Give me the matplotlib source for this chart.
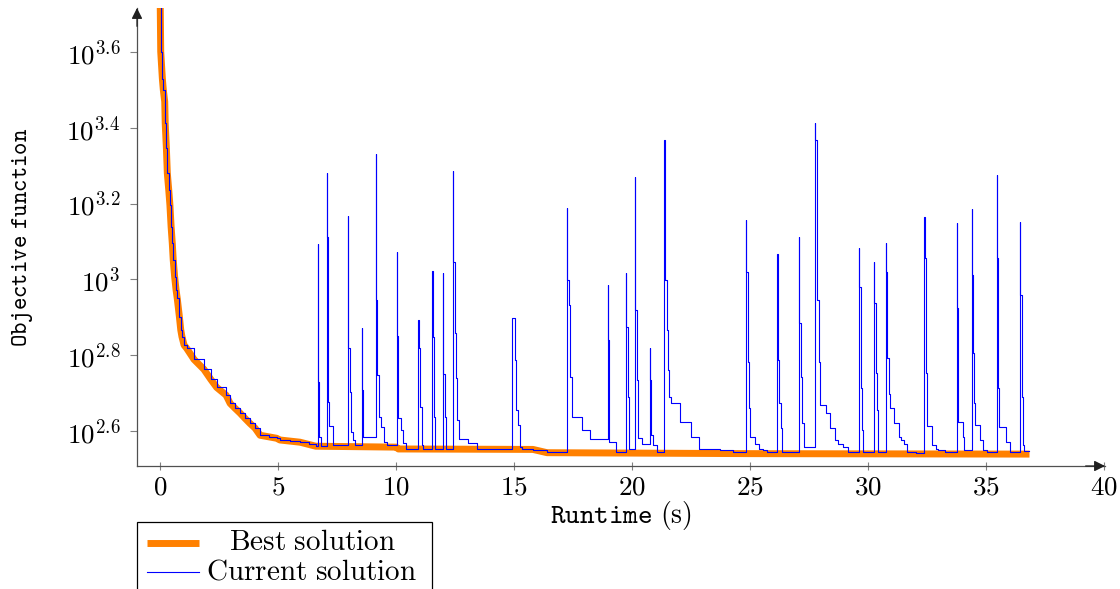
import matplotlib
matplotlib.use("Agg")
import matplotlib.pyplot as plt
from matplotlib.lines import Line2D
from matplotlib.patches import Rectangle
from matplotlib.ticker import FixedLocator, FixedFormatter, NullLocator

plt.rcParams["mathtext.fontset"] = "cm"

# best objective found so far (runtime s, objective)
best_points = [
    (0.00, 6000), (0.03, 3990), (0.10, 3381), (0.14, 3162), (0.20, 2944),
    (0.22, 2582), (0.27, 2218), (0.31, 1905), (0.37, 1722), (0.42, 1570),
    (0.47, 1377), (0.52, 1245), (0.56, 1125), (0.62, 1016), (0.68, 938),
    (0.73, 891), (0.82, 798), (0.88, 735), (0.93, 706), (1.02, 671),
    (1.13, 658), (1.44, 615), (1.86, 579), (2.15, 545), (2.40, 519),
    (2.80, 495), (2.97, 471), (3.18, 457), (3.39, 444), (3.60, 430),
    (3.81, 417), (4.03, 405), (4.24, 388), (4.94, 381), (5.08, 377),
    (5.93, 372), (6.60, 363), (10.00, 361), (10.10, 357), (15.80, 356),
    (16.40, 349), (25.00, 347), (36.84, 346),
]

# objective of the current solution, one entry per step change
current_points = [
    (0.00, 6000), (0.03, 3990), (0.10, 3381), (0.14, 3162), (0.20, 2944),
    (0.22, 2582), (0.27, 2218), (0.31, 1905), (0.37, 1722), (0.42, 1570),
    (0.47, 1377), (0.52, 1245), (0.56, 1125), (0.62, 1016), (0.68, 938),
    (0.73, 891), (0.82, 798), (0.88, 735), (0.93, 706), (1.02, 671),
    (1.13, 658), (1.44, 615), (1.86, 579), (2.15, 545), (2.40, 519),
    (2.80, 495), (2.97, 471), (3.18, 457), (3.39, 444), (3.60, 430),
    (3.81, 417), (4.03, 405), (4.24, 388), (4.60, 384), (4.94, 381),
    (5.08, 377), (5.50, 374), (5.93, 372), (6.30, 368), (6.60, 363),
    (6.68, 1239), (6.70, 536), (6.74, 384), (6.81, 363),
    (7.06, 1912), (7.08, 1294), (7.10, 475), (7.17, 410), (7.34, 366),
    (7.95, 1472), (7.97, 659), (8.05, 506), (8.09, 396), (8.16, 377), (8.26, 366),
    (8.55, 745), (8.57, 511), (8.60, 385),
    (9.14, 2143), (9.15, 1795), (9.16, 883), (9.18, 560), (9.29, 434),
    (9.36, 408), (9.51, 373), (9.63, 366),
    (10.03, 1183), (10.05, 710), (10.10, 431), (10.20, 401), (10.31, 370), (10.42, 358),
    (10.95, 782), (10.97, 659), (11.02, 461), (11.09, 366), (11.15, 358),
    (11.54, 1052), (11.55, 706), (11.61, 434), (11.67, 358),
    (11.98, 1038), (11.99, 562), (12.06, 434), (12.10, 358),
    (12.40, 1932), (12.41, 1114), (12.49, 722), (12.53, 549), (12.60, 426),
    (12.68, 379), (13.07, 371), (13.42, 357),
    (14.90, 789), (15.04, 613), (15.08, 452), (15.18, 413), (15.25, 362),
    (15.33, 357), (15.82, 355), (16.38, 350),
    (17.23, 1542), (17.25, 995), (17.32, 855), (17.37, 553), (17.45, 434),
    (17.87, 401), (18.22, 380),
    (18.97, 966), (18.98, 692), (19.03, 372), (19.32, 350),
    (19.73, 1038), (19.75, 750), (19.82, 490), (19.87, 358),
    (20.13, 1866), (20.14, 830), (20.22, 542), (20.27, 381), (20.44, 369),
    (20.76, 658), (20.78, 542), (20.80, 388), (20.90, 366), (21.05, 350),
    (21.37, 2333), (21.38, 995), (21.47, 735), (21.54, 577), (21.57, 490),
    (21.65, 471), (22.03, 421), (22.50, 385), (22.84, 358), (23.73, 355), (24.28, 351),
    (24.82, 1435), (24.83, 1047), (24.90, 607), (24.96, 457), (25.00, 385),
    (25.21, 369), (25.39, 358), (25.56, 355), (25.71, 351),
    (26.16, 1167), (26.17, 613), (26.24, 471), (26.30, 405), (26.37, 351),
    (27.06, 1297), (27.07, 1125), (27.08, 766), (27.16, 553), (27.22, 417), (27.30, 362),
    (27.75, 2582), (27.76, 2333), (27.83, 1392), (27.85, 883), (27.91, 607),
    (27.97, 467), (28.22, 443), (28.39, 405), (28.60, 377), (28.74, 369),
    (28.95, 362), (29.17, 351),
    (29.60, 1208), (29.61, 957), (29.69, 516), (29.75, 401), (29.80, 351),
    (30.24, 1114), (30.25, 865), (30.33, 565), (30.37, 452), (30.41, 351),
    (30.75, 1245), (30.76, 1047), (30.82, 619), (30.89, 500), (30.93, 457),
    (31.11, 417), (31.31, 385), (31.38, 377), (31.52, 369), (31.66, 351), (32.02, 349),
    (32.39, 1459), (32.40, 1137), (32.44, 565), (32.49, 461), (32.51, 411),
    (32.72, 366), (32.87, 358), (32.98, 355), (33.26, 351),
    (33.76, 1406), (33.77, 839), (33.83, 421), (34.04, 383), (34.08, 355),
    (34.39, 1531), (34.40, 1028), (34.46, 638), (34.49, 471), (34.53, 413),
    (34.75, 377), (34.86, 355), (35.03, 351),
    (35.45, 1884), (35.46, 1137), (35.52, 516), (35.55, 408), (35.83, 373), (36.02, 351),
    (36.44, 1419), (36.45, 910), (36.51, 490), (36.56, 366), (36.61, 352), (36.84, 352),
]

x_ticks = [0, 5, 10, 15, 20, 25, 30, 35, 40]
y_tick_values = [398.1, 631.0, 1000.0, 1584.9, 2511.9, 3981.1]
y_tick_labels = [r"$10^{2.6}$", r"$10^{2.8}$", r"$10^{3}$",
                 r"$10^{3.2}$", r"$10^{3.4}$", r"$10^{3.6}$"]

ORANGE = "#ff8000"
BLUE = "#0000ff"
AXIS = "#505050"
TICK = "#808080"

W, H = 1120, 589
fig = plt.figure(figsize=(W / 100, H / 100), dpi=100)
ax = fig.add_axes([137 / W, 1 - 466 / H, (1105 - 137) / W, (466 - 8) / H])

bt, bv = zip(*best_points)
ct, cv = zip(*current_points)
ax.plot(bt, bv, color=ORANGE, lw=5, solid_capstyle="butt", zorder=2)
ax.plot(ct, cv, color=BLUE, lw=0.8, drawstyle="steps-post", zorder=3)

ax.set_yscale("log")
ax.set_xlim(-0.975, 40.04)
ax.set_ylim(321.9, 5200)

ax.xaxis.set_major_locator(FixedLocator(x_ticks))
ax.xaxis.set_minor_locator(NullLocator())
ax.yaxis.set_major_locator(FixedLocator(y_tick_values))
ax.yaxis.set_major_formatter(FixedFormatter(y_tick_labels))
ax.yaxis.set_minor_locator(NullLocator())
ax.set_xticklabels([f"${t}$" for t in x_ticks])

ax.tick_params(axis="x", direction="inout", length=6, width=0.8, color=TICK,
               labelsize=19.5, pad=3)
ax.tick_params(axis="y", direction="out", length=5, width=0.8, color=TICK,
               labelsize=19.5, pad=7)

for side in ("top", "right"):
    ax.spines[side].set_visible(False)
for side in ("left", "bottom"):
    ax.spines[side].set_color(AXIS)
    ax.spines[side].set_linewidth(0.9)

# arrow heads on the axis lines
arrow = dict(arrowstyle="-|>", color="#202020", lw=0.9, mutation_scale=16,
             shrinkA=0, shrinkB=0)
ax.annotate("", xy=(1.0, 0), xytext=(0.98, 0), xycoords="axes fraction",
            arrowprops=arrow, annotation_clip=False)
ax.annotate("", xy=(0, 1.0), xytext=(0, 0.96), xycoords="axes fraction",
            arrowprops=arrow, annotation_clip=False)

ax.set_xlabel(r"$\mathtt{Runtime}\ \mathrm{(s)}$", fontsize=20)
ax.set_ylabel(r"$\mathtt{Objective\ function}$", fontsize=17)
ax.xaxis.set_label_coords(0.5, -0.072)
ax.yaxis.set_label_coords(-0.105, 0.5)


# legend box drawn by hand, text centred like the pgfplots one
def fx(px):
    return px / W


def fy(py):
    return 1 - py / H


fig.add_artist(Rectangle((fx(137), fy(600)), fx(432) - fx(137), fy(522) - fy(600),
                         transform=fig.transFigure, fill=False, edgecolor="black",
                         lw=0.9, clip_on=False))
fig.add_artist(Line2D([fx(147), fx(199)], [fy(543), fy(543)], color=ORANGE, lw=5,
                      solid_capstyle="butt", transform=fig.transFigure))
fig.add_artist(Line2D([fx(147), fx(199)], [fy(572), fy(572)], color=BLUE, lw=0.8,
                      transform=fig.transFigure))
fig.text(fx(312), fy(542), r"$\mathrm{Best\ solution}$", fontsize=21,
         ha="center", va="center")
fig.text(fx(312), fy(571), r"$\mathrm{Current\ solution}$", fontsize=21,
         ha="center", va="center")

fig.savefig("out.png", dpi=100)
